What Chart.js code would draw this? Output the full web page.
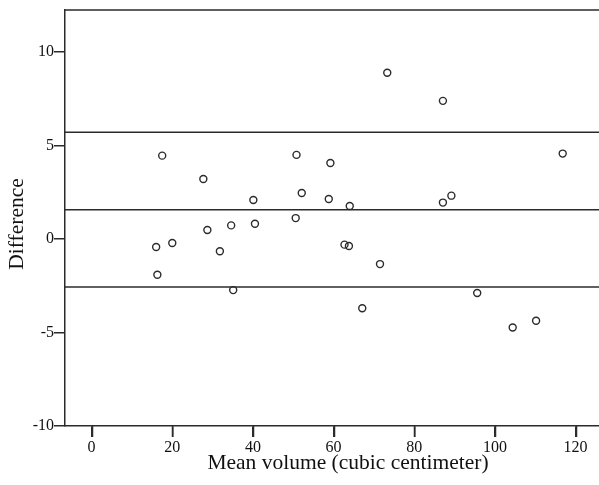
<!DOCTYPE html>
<html>
<head>
<meta charset="utf-8">
<script src="https://cdn.jsdelivr.net/npm/chart.js@4/dist/chart.umd.min.js"></script>
<style>
  html, body { margin: 0; padding: 0; background: #fff; }
  #wrap { width: 599px; height: 485px; }
</style>
</head>
<body>
<div id="wrap"><canvas id="myChart"></canvas></div>
<script>
// mean volume (x) and difference (y) per case
const meanVolume = [17.5, 16.0, 20.0, 16.3, 73.3, 50.8, 59.2, 27.7, 52.1, 40.1,
  58.8, 64.0, 28.7, 34.6, 40.5, 50.6, 62.7, 63.8, 31.8, 71.5,
  35.1, 67.1, 87.1, 116.8, 87.1, 89.2, 95.6, 104.4, 110.2];
const difference = [4.46, -0.43, -0.21, -1.91, 8.89, 4.50, 4.07, 3.21, 2.46, 2.09,
  2.14, 1.77, 0.48, 0.73, 0.82, 1.12, -0.30, -0.37, -0.65, -1.34,
  -2.73, -3.70, 7.39, 4.57, 1.95, 2.32, -2.89, -4.73, -4.37];

// mean difference and limits of agreement
const meanDiff = 1.57;
const upperLimit = 5.71;
const lowerLimit = -2.57;

const xTicks = [0, 20, 40, 60, 80, 100, 120];
const yTicks = [-10, -5, 0, 5, 10];

const xMin = -6.6, xMax = 125.8;
const yMin = -10, yMax = 12.25;

const ink = '#2b2b2b';
const textInk = '#111';
const font = 'Liberation Serif, Times New Roman, serif';

const points = meanVolume.map((v, i) => ({ x: v, y: difference[i] }));
function hline(val) {
  return {
    type: 'line',
    data: [{ x: xMin, y: val }, { x: xMax, y: val }],
    borderColor: ink,
    borderWidth: 1.5,
    pointRadius: 0,
    order: 2
  };
}

// top frame line, x tick marks and axis titles (the source image is cropped
// on the right, so the x title sits right of the plot centre)
const frameAndTitles = {
  id: 'frameAndTitles',
  afterDraw(chart) {
    const a = chart.chartArea, c = chart.ctx;
    const xs = chart.scales.x;
    c.save();
    c.strokeStyle = ink;
    c.lineWidth = 1.5;
    c.beginPath();
    c.moveTo(a.left, a.top);
    c.lineTo(a.right, a.top);
    xTicks.forEach(v => {
      const px = Math.round(xs.getPixelForValue(v)) + 0.5;
      c.moveTo(px, a.bottom);
      c.lineTo(px, a.bottom + 11);
    });
    c.stroke();

    c.fillStyle = textInk;
    c.font = '21.5px ' + font;
    c.textAlign = 'center';
    c.textBaseline = 'middle';
    c.fillText('Mean volume (cubic centimeter)', 348, 463);

    c.translate(17, 224);
    c.rotate(-Math.PI / 2);
    c.fillText('Difference', 0, 0);
    c.restore();
  }
};

const config = {
  type: 'scatter',
  data: {
    datasets: [
      {
        data: points,
        pointRadius: 3.5,
        pointBorderWidth: 1.4,
        pointBorderColor: ink,
        pointBackgroundColor: 'rgba(255,255,255,0)',
        order: 1
      },
      hline(upperLimit),
      hline(meanDiff),
      hline(lowerLimit)
    ]
  },
  options: {
    responsive: true,
    maintainAspectRatio: false,
    animation: false,
    layout: { autoPadding: false, padding: { top: 10, right: 0, left: 0, bottom: 0 } },
    plugins: { legend: { display: false }, tooltip: { enabled: false } },
    scales: {
      x: {
        type: 'linear',
        min: xMin,
        max: xMax,
        afterBuildTicks: (s) => { s.ticks = xTicks.map(v => ({ value: v })); },
        afterFit: (s) => { s.height = 59; s.paddingRight = 0; s.paddingLeft = 0; },
        grid: { drawOnChartArea: false, color: ink, lineWidth: 1.5, tickLength: 11 },
        border: { color: ink, width: 1.5 },
        ticks: { color: textInk, font: { family: font, size: 16 }, padding: 1 },
        title: { display: false }
      },
      y: {
        min: yMin,
        max: yMax,
        afterBuildTicks: (s) => { s.ticks = yTicks.map(v => ({ value: v })); },
        afterFit: (s) => { s.width = 65; s.paddingTop = 0; s.paddingBottom = 0; },
        grid: { drawOnChartArea: false, color: ink, lineWidth: 1.5, tickLength: 11 },
        border: { color: ink, width: 1.5 },
        ticks: { color: textInk, font: { family: font, size: 16 }, padding: 0 },
        title: { display: false }
      }
    }
  },
  plugins: [frameAndTitles]
};

const myChart = new Chart(document.getElementById('myChart'), config);
</script>
</body>
</html>
